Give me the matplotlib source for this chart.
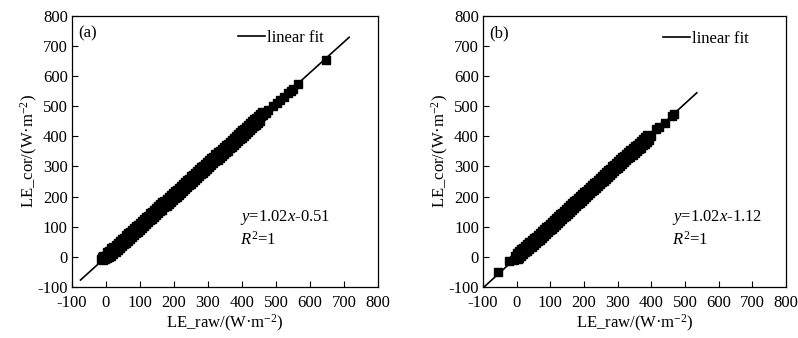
import matplotlib
matplotlib.use("Agg")
import matplotlib.pyplot as plt

plt.rcParams['font.family'] = ['Liberation Serif', 'DejaVu Serif']
plt.rcParams['mathtext.fontset'] = 'custom'
plt.rcParams['mathtext.rm'] = 'Liberation Serif'
plt.rcParams['mathtext.it'] = 'Liberation Serif:italic'
plt.rcParams['axes.unicode_minus'] = False
plt.rcParams['font.size'] = 12

# --- data ---
# panel (a): centre of the point cloud
raw_a = [-14, -12, -10, -8, -6, -3, 0, 2, 5, 8, 11, 15, 19, 23, 27, 32, 37, 42, 48, 54,
         60, 66, 72, 78, 84, 90, 97, 104, 111, 118, 125, 132, 139, 146, 153, 160, 167,
         174, 181, 188, 195, 200, 206, 213, 220, 227, 234, 241, 248, 255, 258, 264, 271,
         278, 282, 288, 295, 302, 309, 316, 323, 330, 337, 344, 351, 358, 365, 372, 379,
         386, 393, 400, 407, 414, 421, 428, 435, 442, 449, 456, 463, 470, 477, 490, 502,
         512, 524, 535, 545, 550, 565, 648]
cor_a = [-8, -2, -10, 3, -5, -8, 4, -4, 2, 8, 6, 16, 12, 24, 26, 31, 38, 41, 50, 52,
         62, 65, 74, 78, 86, 90, 99, 106, 112, 121, 126, 135, 142, 148, 156, 162, 170,
         177, 184, 190, 199, 210, 208, 218, 224, 232, 238, 246, 252, 262, 272, 268, 276,
         282, 298, 292, 301, 307, 315, 322, 330, 335, 344, 352, 358, 366, 372, 379, 386,
         392, 402, 407, 416, 422, 431, 436, 444, 452, 457, 466, 471, 478, 488, 500, 512,
         520, 532, 545, 552, 558, 573, 652]
# panel (a): upper and lower edges of the cloud
raw_a_hi = [4, 10, 16, 22, 28, 34, 40, 46, 52, 58, 64, 70, 76, 82, 88, 94, 100, 106, 112,
            118, 124, 130, 136, 142, 148, 154, 160, 166, 172, 178, 184, 190, 196, 202,
            208, 214, 220, 226, 232, 238, 244, 250, 256, 262, 268, 274, 280, 286, 292,
            298, 304, 310, 316, 322, 328, 334, 340, 346, 352, 358, 364, 370, 376, 382,
            388, 394, 400, 406, 412, 418, 424, 430, 436, 442, 448, 454, 460]
cor_a_hi = [15, 21, 28, 34, 40, 46, 53, 58, 64, 71, 78, 83, 89, 96, 102, 107, 113, 120,
            126, 131, 137, 144, 150, 156, 163, 168, 174, 181, 187, 192, 199, 205, 212,
            217, 223, 230, 236, 241, 248, 254, 260, 267, 273, 278, 284, 291, 298, 303,
            309, 315, 322, 327, 333, 340, 347, 352, 358, 364, 371, 376, 382, 389, 395,
            401, 407, 414, 420, 425, 431, 438, 445, 450, 456, 462, 468, 474, 480]
raw_a_lo = [10, 16, 22, 28, 34, 40, 46, 52, 58, 64, 70, 76, 82, 88, 94, 100, 106, 112,
            118, 124, 130, 136, 142, 148, 154, 160, 166, 172, 178, 184, 190, 196, 202,
            208, 214, 220, 226, 232, 238, 244, 250, 256, 262, 268, 274, 280, 286, 292,
            298, 304, 310, 316, 322, 328, 334, 340, 346, 352, 358, 364, 370, 376, 382,
            388, 394, 400, 406, 412, 418, 424, 430, 436, 442, 448, 454]
cor_a_lo = [-2, 4, 10, 17, 23, 29, 35, 41, 47, 53, 59, 66, 72, 78, 84, 90, 96, 102, 108,
            115, 121, 127, 133, 139, 145, 151, 157, 164, 170, 176, 182, 188, 194, 200,
            206, 213, 219, 225, 231, 237, 243, 249, 255, 262, 268, 274, 280, 286, 292,
            298, 304, 311, 317, 323, 329, 335, 341, 347, 353, 360, 365, 372, 378, 384,
            390, 396, 402, 409, 414, 421, 427, 433, 439, 445, 451]
fit_a = [-75, 715]
slope_a, icpt_a = 1.02, -0.51

# panel (b): centre of the point cloud
raw_b = [-55, -22, -8, -5, -2, 0, 3, 6, 9, 12, 16, 20, 24, 28, 33, 38, 43, 48, 54, 60,
         66, 72, 78, 84, 90, 97, 104, 111, 118, 125, 132, 139, 146, 153, 160, 167, 174,
         181, 188, 195, 202, 209, 216, 223, 230, 237, 244, 251, 258, 265, 272, 279, 286,
         293, 300, 307, 314, 321, 328, 335, 342, 349, 356, 363, 370, 377, 384, 392, 398,
         415, 422, 440, 460, 466]
cor_b = [-50, -15, -10, 2, -4, 6, -6, 4, 10, 8, 14, 22, 21, 30, 32, 40, 42, 50, 52, 62,
         64, 74, 78, 86, 91, 98, 104, 112, 118, 127, 133, 140, 147, 154, 160, 170, 177,
         181, 190, 196, 205, 209, 218, 224, 232, 236, 246, 258, 262, 268, 276, 280, 292,
         296, 305, 310, 318, 326, 332, 338, 347, 352, 362, 368, 374, 382, 388, 398, 402,
         425, 432, 445, 468, 474]
# panel (b): upper and lower edges of the cloud
raw_b_hi = [2, 8, 14, 20, 26, 32, 38, 44, 50, 56, 62, 68, 74, 80, 86, 92, 98, 104, 110,
            116, 122, 128, 134, 140, 146, 152, 158, 164, 170, 176, 182, 188, 194, 200,
            206, 212, 218, 224, 230, 236, 242, 248, 254, 260, 266, 272, 278, 284, 290,
            296, 302, 308, 314, 320, 326, 332, 338, 344, 350, 356, 362, 368, 374, 380,
            386]
cor_b_hi = [12, 19, 25, 31, 37, 43, 49, 55, 62, 67, 73, 80, 86, 92, 98, 104, 110, 117,
            123, 128, 134, 141, 147, 153, 159, 165, 171, 178, 184, 189, 195, 202, 208,
            214, 220, 226, 232, 239, 245, 250, 256, 263, 269, 275, 281, 287, 293, 300,
            306, 311, 317, 324, 330, 336, 342, 348, 354, 361, 367, 372, 378, 385, 391,
            397, 403]
raw_b_lo = [8, 14, 20, 26, 32, 38, 44, 50, 56, 62, 68, 74, 80, 86, 92, 98, 104, 110, 116,
            122, 128, 134, 140, 146, 152, 158, 164, 170, 176, 182, 188, 194, 200, 206,
            212, 218, 224, 230, 236, 242, 248, 254, 260, 266, 272, 278, 284, 290, 296,
            302, 308, 314, 320, 326, 332, 338, 344, 350, 356, 362, 368, 374, 380, 386,
            392]
cor_b_lo = [-4, 2, 8, 15, 21, 27, 33, 39, 45, 51, 57, 64, 70, 76, 82, 88, 94, 100, 106,
            113, 119, 125, 131, 137, 143, 149, 155, 162, 168, 174, 180, 186, 192, 198,
            204, 211, 217, 223, 229, 235, 241, 247, 253, 260, 266, 272, 278, 284, 290,
            296, 302, 309, 315, 321, 327, 333, 339, 345, 351, 358, 363, 370, 376, 382,
            388]
fit_b = [-100, 535]
slope_b, icpt_b = 1.02, -1.12

ticks = [-100, 0, 100, 200, 300, 400, 500, 600, 700, 800]

fig = plt.figure(figsize=(7.98, 3.38), dpi=100)
ax_a = fig.add_axes([0.0902, 0.151, 0.3835, 0.802])
ax_b = fig.add_axes([0.6053, 0.151, 0.3797, 0.802])

panels = [
    (ax_a, [raw_a, raw_a_hi, raw_a_lo], [cor_a, cor_a_hi, cor_a_lo], fit_a, slope_a, icpt_a,
     "(a)", "$y$=1.02$x$-0.51", (0.542, 0.92), 0.549),
    (ax_b, [raw_b, raw_b_hi, raw_b_lo], [cor_b, cor_b_hi, cor_b_lo], fit_b, slope_b, icpt_b,
     "(b)", "$y$=1.02$x$-1.12", (0.594, 0.915), 0.624),
]

for ax, xs, ys, fx, k, b, tag, eq, leg_pos, eq_x in panels:
    fy = [k * v + b for v in fx]
    ax.plot(fx, fy, color='black', lw=1.2, label='linear fit', zorder=2)
    for xr, yc in zip(xs, ys):
        ax.plot(xr, yc, ls='none', marker='s', ms=6, color='black', zorder=3)

    ax.set_xlim(-100, 800)
    ax.set_ylim(-100, 800)
    ax.set_xticks(ticks)
    ax.set_yticks(ticks)
    ax.tick_params(direction='in', length=4, width=0.8, top=False, right=False,
                   labelsize=12)
    ax.tick_params(axis='x', pad=6)
    ax.tick_params(axis='y', pad=3)
    for sp in ax.spines.values():
        sp.set_linewidth(0.9)

    ax.set_xlabel("LE_raw/(W·m$^{-2}$)", fontsize=12, labelpad=1)
    ax.set_ylabel("LE_cor/(W·m$^{-2}$)", fontsize=12, labelpad=-2)

    ax.text(0.02, 0.937, tag, transform=ax.transAxes, ha='left', va='center', fontsize=12)
    ax.text(eq_x, 0.255, eq, transform=ax.transAxes, ha='left', va='center', fontsize=12)
    ax.text(eq_x, 0.173, "$R^{2}$=1", transform=ax.transAxes, ha='left', va='center', fontsize=12)

    ax.legend(loc='center left', bbox_to_anchor=leg_pos, frameon=False, fontsize=12,
              handlelength=1.6, handletextpad=0.15, borderpad=0, borderaxespad=0)

fig.savefig("out.png", dpi=100)
